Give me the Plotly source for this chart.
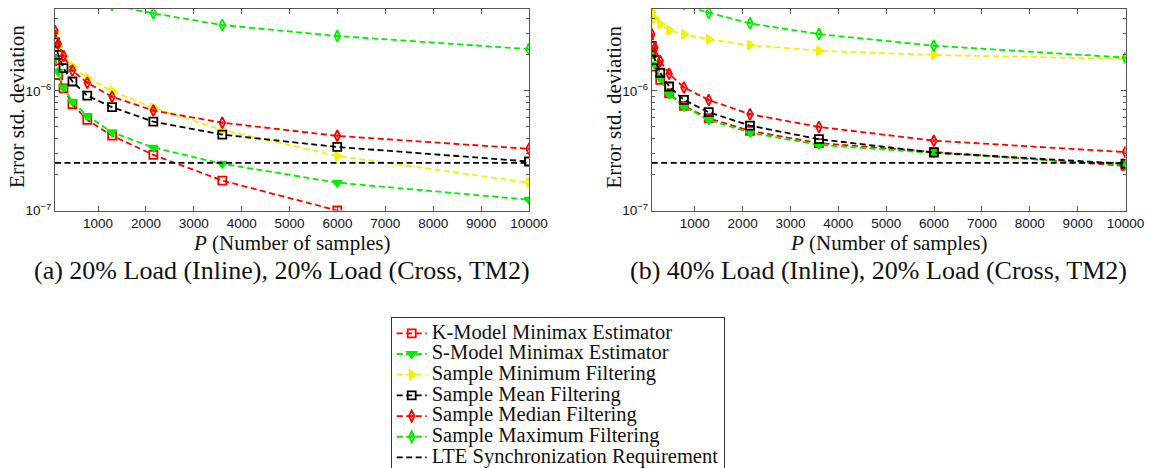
import plotly.graph_objects as go

# ---------------- data ----------------
P = [100, 167, 278, 464, 774, 1292, 2154, 3594, 5995, 10000]
LTE_REQ = 2.5e-7

names = [
    "K-Model Minimax Estimator",
    "S-Model Minimax Estimator",
    "Sample Minimum Filtering",
    "Sample Mean Filtering",
    "Sample Median Filtering",
    "Sample Maximum Filtering",
    "LTE Synchronization Requirement",
]

# (a) 20% Load (Inline), 20% Load (Cross, TM2)
a_kmodel = [1.80e-6, 1.36e-6, 1.05e-6, 7.74e-7, 5.72e-7, 4.23e-7, 2.92e-7, 1.78e-7, 1.0e-7, 5.5e-8]
a_smodel = [1.88e-6, 1.45e-6, 1.07e-6, 8.14e-7, 6.18e-7, 4.52e-7, 3.36e-7, 2.46e-7, 1.71e-7, 1.23e-7]
a_min = [3.03e-6, 2.35e-6, 1.95e-6, 1.60e-6, 1.28e-6, 1.0e-6, 7.21e-7, 4.72e-7, 2.86e-7, 1.71e-7]
a_mean = [2.55e-6, 2.0e-6, 1.55e-6, 1.20e-6, 9.14e-7, 7.31e-7, 5.54e-7, 4.31e-7, 3.40e-7, 2.57e-7]
a_median = [3.17e-6, 2.48e-6, 1.96e-6, 1.48e-6, 1.17e-6, 8.96e-7, 6.85e-7, 5.43e-7, 4.21e-7, 3.28e-7]
a_max = [1.4e-5, 1.2e-5, 1.0e-5, 8.0e-6, 6.5e-6, 5.2e-6, 4.46e-6, 3.56e-6, 2.88e-6, 2.24e-6]

# (b) 40% Load (Inline), 20% Load (Cross, TM2)
b_kmodel = [2.07e-6, 1.60e-6, 1.24e-6, 9.57e-7, 7.49e-7, 5.91e-7, 4.63e-7, 3.66e-7, 3.09e-7, 2.36e-7]
b_smodel = [2.09e-6, 1.65e-6, 1.28e-6, 9.38e-7, 7.39e-7, 5.72e-7, 4.48e-7, 3.54e-7, 3.03e-7, 2.41e-7]
b_min = [4.59e-6, 4.05e-6, 3.63e-6, 3.23e-6, 2.98e-6, 2.70e-6, 2.42e-6, 2.17e-6, 2.0e-6, 1.85e-6]
b_mean = [2.38e-6, 1.82e-6, 1.42e-6, 1.09e-6, 8.41e-7, 6.64e-7, 5.13e-7, 3.95e-7, 3.05e-7, 2.46e-7]
b_median = [2.98e-6, 2.30e-6, 1.78e-6, 1.39e-6, 1.07e-6, 8.41e-7, 6.39e-7, 5.0e-7, 3.84e-7, 3.08e-7]
b_max = [1.1e-5, 9.5e-6, 8.0e-6, 6.5e-6, 5.3e-6, 4.51e-6, 3.68e-6, 2.99e-6, 2.39e-6, 1.90e-6]

x_ticks = [1000, 2000, 3000, 4000, 5000, 6000, 7000, 8000, 9000, 10000]
x_ticktext = ["1000", "2000", "3000", "4000", "5000", "6000", "7000", "8000", "9000", "10000"]
y_ticks = [1e-7, 1e-6]
y_ticktext = ["10<sup>\u22127</sup>", "10<sup>\u22126</sup>"]
y_minor = [2e-7, 3e-7, 4e-7, 5e-7, 6e-7, 7e-7, 8e-7, 9e-7, 2e-6, 3e-6, 4e-6]

captions = [
    "(a) 20% Load (Inline), 20% Load (Cross, TM2)",
    "(b) 40% Load (Inline), 20% Load (Cross, TM2)",
]

# ---------------- styles ----------------
RED, GREEN, YELLOW, BLACK = "#ff0000", "#00ee00", "#f2f200", "#000000"
DASH = "6px,3.5px"
styles = [
    dict(color=RED, symbol="square-open"),
    dict(color=GREEN, symbol="triangle-down"),
    dict(color=YELLOW, symbol="triangle-right"),
    dict(color=BLACK, symbol="square-open"),
    dict(color=RED, symbol="diamond-tall-open-dot"),
    dict(color=GREEN, symbol="diamond-tall-open-dot"),
]

serif = "Liberation Serif, Times New Roman, serif"
LEG_TXT = '<span style="font-size:20.5px">%s</span>'

fig = go.Figure()

panels = [
    (["x", "y"], [a_kmodel, a_smodel, a_min, a_mean, a_median, a_max], True),
    (["x2", "y2"], [b_kmodel, b_smodel, b_min, b_mean, b_median, b_max], False),
]

for (xa, ya), series, show in panels:
    for i, (name, ys, st) in enumerate(zip(names[:6], series, styles)):
        fig.add_trace(go.Scatter(
            x=P, y=ys, name=LEG_TXT % name, mode="lines+markers",
            xaxis=xa, yaxis=ya, showlegend=show, legendrank=i,
            line=dict(color=st["color"], width=1.8, dash=DASH),
            marker=dict(symbol=st["symbol"], size=8, color=st["color"],
                        line=dict(color=st["color"], width=1.8)),
        ))
    fig.add_trace(go.Scatter(
        x=P, y=[LTE_REQ] * len(P), name=LEG_TXT % names[6], mode="lines",
        xaxis=xa, yaxis=ya, showlegend=show, legendrank=6,
        line=dict(color=BLACK, width=1.8, dash=DASH),
    ))

W, H = 1156, 468
left_dom = [55 / W, 529 / W]
right_dom = [651.7 / W, 1125.5 / W]
y_dom = [1 - 210.5 / H, 1 - 9.3 / H]

tick_font = dict(family="Liberation Sans, Arial, sans-serif", size=13.5, color="#111")
axis_common = dict(showline=True, linecolor="#555", linewidth=1, mirror="ticks",
                   ticks="inside", ticklen=5, tickcolor="#555", showgrid=False,
                   zeroline=False, tickfont=tick_font)

xcfg = dict(axis_common, type="linear", range=[100, 10000], tickvals=x_ticks,
            ticktext=x_ticktext)
ycfg = dict(axis_common, type="log", range=[-7, -5.317], tickvals=y_ticks,
            ticktext=y_ticktext,
            minor=dict(ticks="inside", ticklen=3, tickcolor="#555", tickvals=y_minor,
                       showgrid=False))

fig.update_layout(
    width=W, height=H,
    margin=dict(l=0, r=0, t=0, b=0, autoexpand=False),
    paper_bgcolor="white", plot_bgcolor="white",
    xaxis=dict(xcfg, domain=left_dom, anchor="y"),
    yaxis=dict(ycfg, domain=y_dom, anchor="x"),
    xaxis2=dict(xcfg, domain=right_dom, anchor="y2"),
    yaxis2=dict(ycfg, domain=y_dom, anchor="x2"),
    legend=dict(
        x=390.7 / W, y=1 - 317 / H, xanchor="left", yanchor="top",
        bordercolor="#333", borderwidth=1, bgcolor="white",
        font=dict(family=serif, size=13.6, color="#111"),
        tracegroupgap=0, itemwidth=30,
        entrywidth=330, entrywidthmode="pixels",
    ),
    showlegend=True,
)

ann = []
for dom, cap in [(left_dom, captions[0]), (right_dom, captions[1])]:
    cx = (dom[0] + dom[1]) / 2
    ann.append(dict(x=cx, y=1 - 243 / H, xref="paper", yref="paper",
                    xanchor="center", yanchor="middle",
                    text="<i>P</i> (Number of samples)", showarrow=False,
                    font=dict(family=serif, size=21, color="#111")))
    ann.append(dict(x=cx - 10 / W, y=1 - 270 / H, xref="paper", yref="paper",
                    xanchor="center", yanchor="middle",
                    text=cap, showarrow=False,
                    font=dict(family=serif, size=26, color="#111")))
    ann.append(dict(x=dom[0] - 38 / W, y=(y_dom[0] + y_dom[1]) / 2 + 3 / H,
                    xref="paper", yref="paper",
                    xanchor="center", yanchor="middle",
                    text="Error std. deviation", textangle=-90, showarrow=False,
                    font=dict(family=serif, size=21, color="#111")))
fig.update_layout(annotations=ann)

fig.write_html("out.html")
